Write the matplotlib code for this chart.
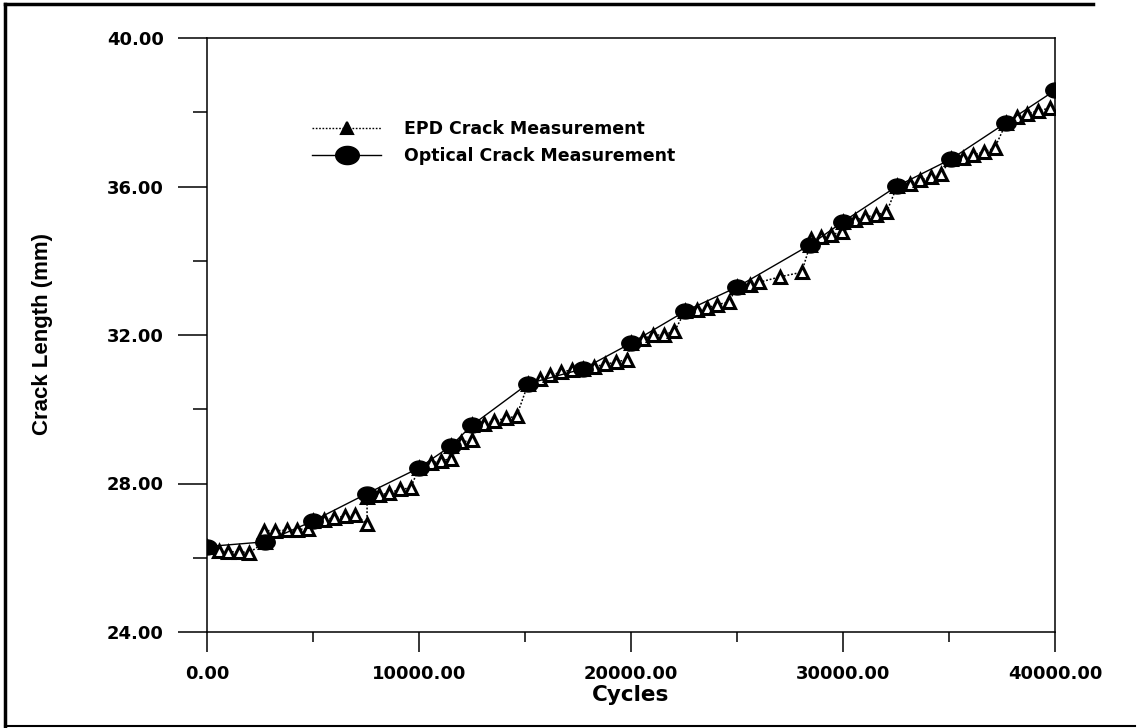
import matplotlib
matplotlib.use("Agg")
import matplotlib.pyplot as plt
from matplotlib.path import Path
from matplotlib.lines import Line2D
import numpy as np

# ---------------- data ----------------
optical_cycles = [0, 2750, 5000, 7550, 10000, 11500, 12500, 15150, 17750, 20000,
                  22550, 25000, 28450, 30000, 32550, 35100, 37700, 40000]
optical_length = [26.30, 26.43, 26.99, 27.73, 28.42, 29.01, 29.57, 30.69, 31.09, 31.78,
                  32.64, 33.29, 34.43, 35.05, 36.01, 36.74, 37.72, 38.59]

epd_cycles = [0, 550, 1000, 1500, 2000, 2750, 2700, 3200, 3750, 4250, 4750,
              5000, 5500, 6000, 6500, 7000, 7550, 7550, 8100, 8600, 9100, 9600,
              10000, 10550, 11050, 11500, 11500, 12000, 12500, 12500, 13050, 13550, 14100, 14600,
              15150, 15700, 16200, 16700, 17200, 17750, 18250, 18750, 19300, 19800,
              20000, 20550, 21050, 21550, 22050, 22550, 23100, 23600, 24050, 24600,
              25000, 25600, 26050, 27050, 28050, 28450, 28500, 28950, 29450, 29950,
              30000, 30550, 31050, 31550, 32050, 32550, 33150, 33650, 34150, 34600,
              35100, 35650, 36150, 36650, 37150, 37700, 38200, 38700, 39200, 39750]
epd_length = [26.30, 26.19, 26.16, 26.16, 26.14, 26.43, 26.73, 26.73, 26.74, 26.76, 26.78,
              26.99, 27.03, 27.07, 27.12, 27.15, 26.92, 27.64, 27.68, 27.75, 27.84, 27.88,
              28.42, 28.55, 28.61, 28.67, 29.01, 29.12, 29.16, 29.57, 29.61, 29.68, 29.76, 29.81,
              30.69, 30.82, 30.91, 31.00, 31.06, 31.09, 31.14, 31.21, 31.27, 31.34,
              31.78, 31.90, 31.99, 32.01, 32.10, 32.64, 32.66, 32.73, 32.82, 32.88,
              33.29, 33.36, 33.42, 33.57, 33.69, 34.43, 34.59, 34.63, 34.70, 34.78,
              35.05, 35.10, 35.17, 35.24, 35.30, 36.01, 36.08, 36.17, 36.26, 36.33,
              36.74, 36.77, 36.85, 36.94, 37.03, 37.72, 37.88, 37.96, 38.04, 38.11]

x_ticks = [0, 10000, 20000, 30000, 40000]
x_ticklabels = ["0.00", "10000.00", "20000.00", "30000.00", "40000.00"]
y_ticks = [24, 28, 32, 36, 40]
y_ticklabels = ["24.00", "28.00", "32.00", "36.00", "40.00"]
epd_label = "EPD Crack Measurement"
optical_label = "Optical Crack Measurement"
x_title = "Cycles"
y_title = "Crack Length (mm)"

# ---------------- figure ----------------
W, H = 1140, 728
fig = plt.figure(figsize=(W / 100, H / 100), dpi=100)
fig.patch.set_facecolor("white")

L, R, B, T = 207, 1055, 632, 38
ax = fig.add_axes([L / W, 1 - B / H, (R - L) / W, (B - T) / H])

# elliptical marker
t = np.linspace(0, 2 * np.pi, 60)
ell = Path(np.column_stack([1.3 * np.cos(t), np.sin(t)]), closed=True)

ax.plot(epd_cycles, epd_length, linestyle=(0, (1.2, 1.2)), color="black", lw=1.1,
        marker="^", markersize=8.5, markerfacecolor="white", markeredgecolor="black",
        markeredgewidth=2.2, zorder=3)
ax.plot(optical_cycles, optical_length, linestyle="-", color="black", lw=1.0,
        marker=ell, markersize=14, markerfacecolor="black", markeredgecolor="black",
        zorder=4)

ax.set_xlim(0, 40000)
ax.set_ylim(24, 40)

tick_font = dict(family=["DejaVu Sans"], weight="bold", size=13)
ax.set_xticks(x_ticks)
ax.set_xticklabels(x_ticklabels, fontdict=tick_font)
ax.set_yticks(y_ticks)
ax.set_yticklabels(y_ticklabels, fontdict=tick_font)
ax.set_xticks([5000, 15000, 25000, 35000], minor=True)
ax.set_yticks([26, 30, 34, 38], minor=True)

ax.tick_params(axis="y", which="major", direction="out", length=21, width=1.1, pad=10, colors="black")
ax.tick_params(axis="y", which="minor", direction="out", length=10, width=1.1)
ax.tick_params(axis="x", which="major", direction="out", length=14.5, width=1.1, pad=9)
ax.tick_params(axis="x", which="minor", direction="out", length=7.5, width=1.1)

for s in ax.spines.values():
    s.set_linewidth(1.1)
    s.set_color("black")

ax.set_xlabel(x_title, family=["DejaVu Sans"], weight="bold", size=15.5, labelpad=2)
fig.text(43 / W, 1 - 334 / H, y_title, rotation=90, ha="center", va="center",
         family=["Liberation Sans"], weight="bold", size=16)

# legend
h1 = Line2D([], [], linestyle=(0, (1.2, 1.2)), color="black", lw=1.0, marker="^",
            markersize=9, markerfacecolor="black", markeredgecolor="black",
            markeredgewidth=1.5)
h2 = Line2D([], [], linestyle="-", color="black", lw=1.0, marker=ell, markersize=17,
            markerfacecolor="black", markeredgecolor="black")
leg = ax.legend([h1, h2], [epd_label, optical_label], loc="center left",
                bbox_to_anchor=(312 / W, 1 - 142.5 / H), bbox_transform=fig.transFigure,
                frameon=False, numpoints=1, handlelength=4.0, handletextpad=1.3,
                labelspacing=0.5, borderpad=0, borderaxespad=0,
                prop=dict(family="DejaVu Sans", weight="bold", size=12.5))

# outer frame (left, top, bottom)
fl = dict(color="black", lw=2.5, transform=fig.transFigure)
fig.add_artist(Line2D([5 / W, 5 / W], [1 - 4 / H, 1 - 726 / H], **fl))
fig.add_artist(Line2D([5 / W, 1093 / W], [1 - 4 / H, 1 - 4 / H], **fl))
fig.add_artist(Line2D([5 / W, 1135 / W], [1 - 726 / H, 1 - 726 / H], color="black", lw=1.5,
                      transform=fig.transFigure))

fig.savefig("out.png", dpi=100, facecolor="white")
